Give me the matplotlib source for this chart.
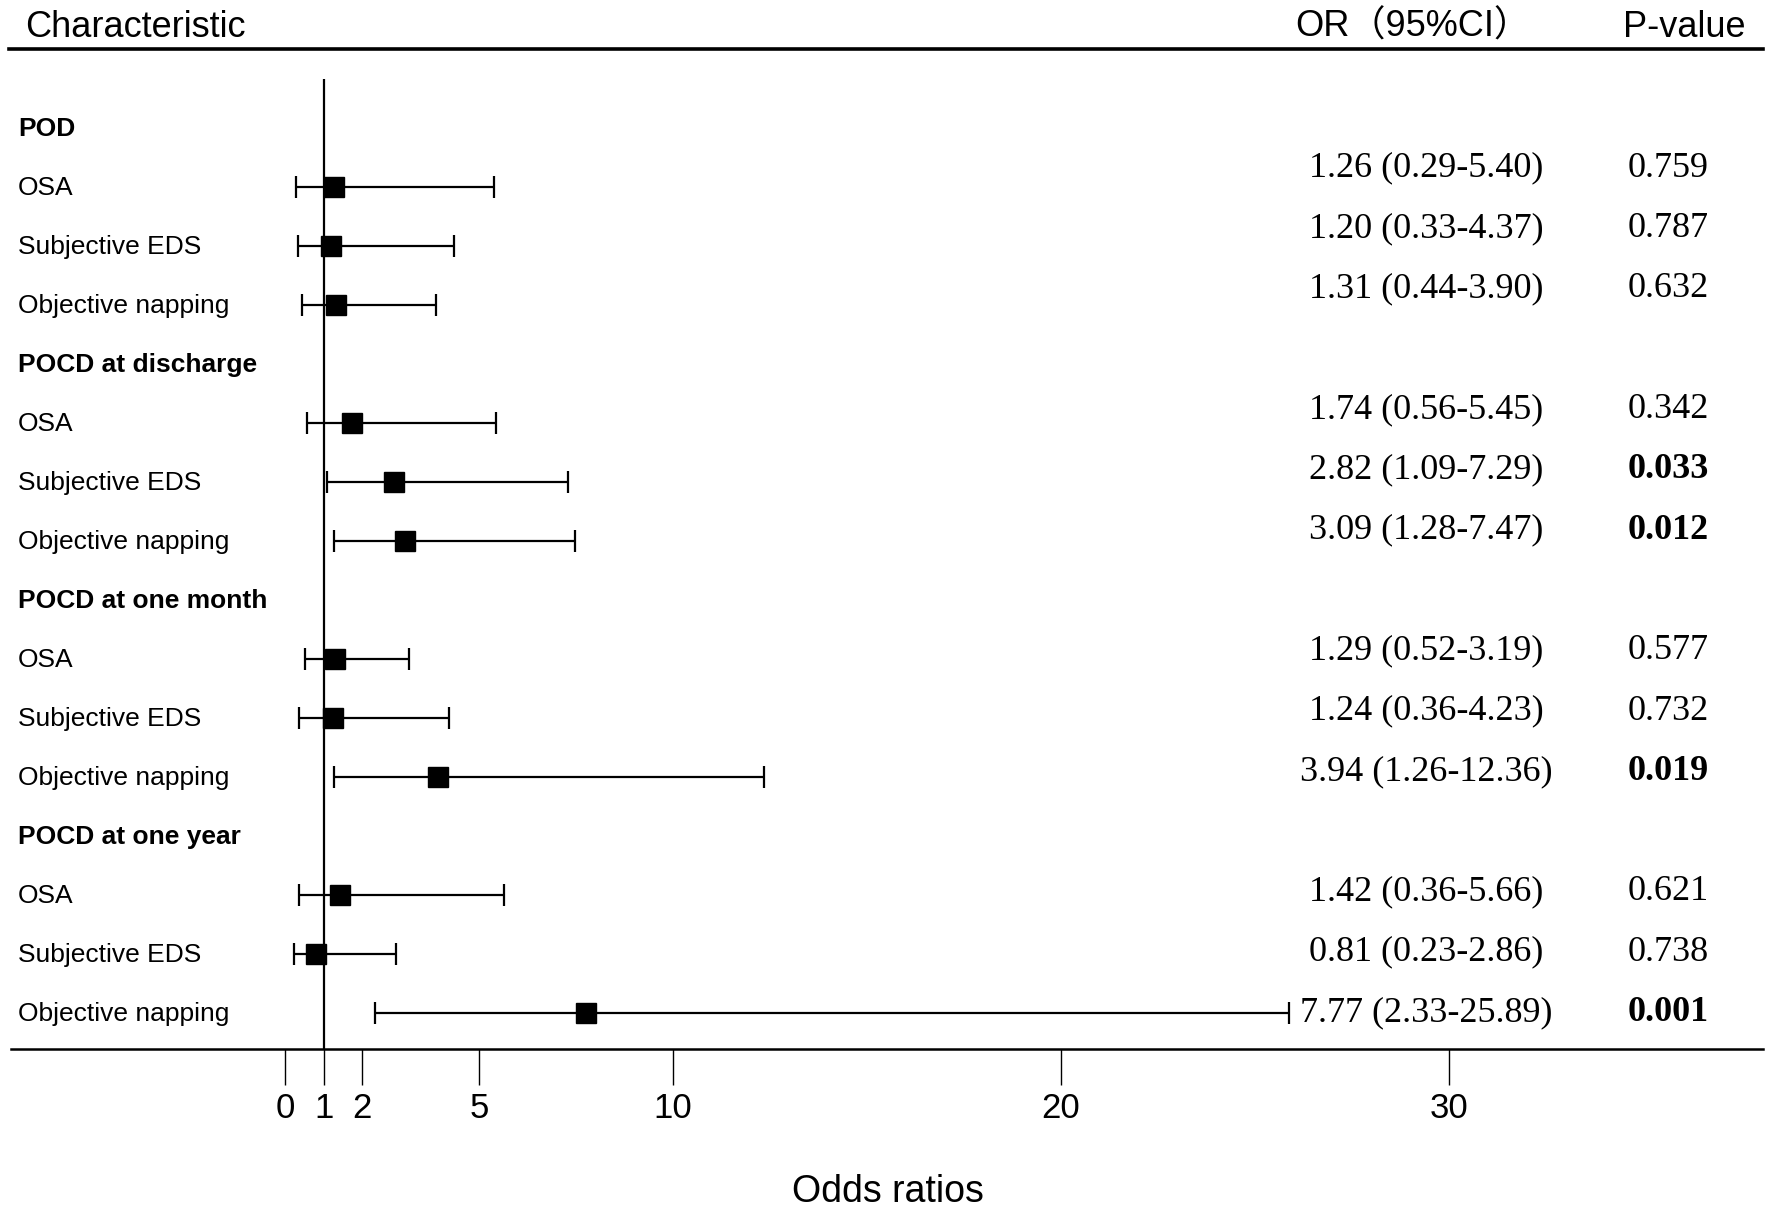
import numpy as np
import matplotlib.pyplot as plt
import matplotlib.transforms as mtransforms

# DADOS DA TABELA
rotulos = ['POD', 'OSA', 'Subjective EDS', 'Objective napping',
           'POCD at discharge', 'OSA', 'Subjective EDS', 'Objective napping',
           'POCD at one month', 'OSA', 'Subjective EDS', 'Objective napping',
           'POCD at one year', 'OSA', 'Subjective EDS', 'Objective napping']
cabecalho = [True, False, False, False] * 4

OR = [np.nan, 1.26, 1.20, 1.31, np.nan, 1.74, 2.82, 3.09,
      np.nan, 1.29, 1.24, 3.94, np.nan, 1.42, 0.81, 7.77]
IC_inf = [np.nan, 0.29, 0.33, 0.44, np.nan, 0.56, 1.09, 1.28,
          np.nan, 0.52, 0.36, 1.26, np.nan, 0.36, 0.23, 2.33]
IC_sup = [np.nan, 5.40, 4.37, 3.90, np.nan, 5.45, 7.29, 7.47,
          np.nan, 3.19, 4.23, 12.36, np.nan, 5.66, 2.86, 25.89]
p_valor = [None, '0.759', '0.787', '0.632', None, '0.342', '0.033', '0.012',
           None, '0.577', '0.732', '0.019', None, '0.621', '0.738', '0.001']

ticks_x = [0, 1, 2, 5, 10, 20, 30]

SANS = ['Liberation Sans', 'Noto Sans CJK SC', 'DejaVu Sans']
SERIF = ['Liberation Serif', 'DejaVu Serif']

W, H = 1568, 1073.4  # coordenadas de referencia


def fx(px):
    return px / W


def fy(py):
    return 1 - py / H


fig = plt.figure(figsize=(17.72, 12.13), dpi=100)
ax = fig.add_axes([fx(10), fy(928), fx(1560) - fx(10), fy(70) - fy(928)])

n = len(rotulos)
y = np.arange(n)
OR = np.array(OR)
lo = OR - np.array(IC_inf)
hi = np.array(IC_sup) - OR

ax.errorbar(OR, y, xerr=[lo, hi], fmt='s', color='black', ms=15,
            elinewidth=1.6, capsize=8, capthick=1.6)
ax.axvline(1, color='black', lw=1.6)

ax.set_xlim(-7.05, 38.1)
ax.set_ylim(n - 1 + 0.61, -0.82)

for s in ['top', 'right', 'left']:
    ax.spines[s].set_visible(False)
ax.spines['bottom'].set_linewidth(1.8)
ax.set_yticks([])
ax.set_xticks(ticks_x)
ax.set_xticklabels([str(t) for t in ticks_x], family=SANS, fontsize=25)
ax.tick_params(axis='x', direction='out', length=26, width=1.0, pad=5)

# TEXTOS DAS LINHAS
trans = mtransforms.blended_transform_factory(fig.transFigure, ax.transData)
for i in range(n):
    ax.text(fx(16), i + 0.03, rotulos[i], transform=trans, ha='left', va='center',
            family=SANS, fontsize=19,
            fontweight='bold' if cabecalho[i] else 'normal')
    if p_valor[i] is not None:
        yt = 0.69 + 1.022 * (i - 1)
        txt = f'{OR[i]:.2f} ({IC_inf[i]:.2f}-{IC_sup[i]:.2f})'
        ax.text(fx(1262), yt, txt, transform=trans, ha='center', va='center',
                family=SERIF, fontsize=26, clip_on=False)
        negrito = float(p_valor[i]) < 0.05
        ax.text(fx(1440), yt, p_valor[i], transform=trans, ha='left', va='center',
                family=SERIF, fontsize=26, clip_on=False,
                fontweight='bold' if negrito else 'normal')

# CABECALHO
fig.text(fx(22), fy(24), 'Characteristic', ha='left', va='center', family=SANS, fontsize=26)
fig.text(fx(1250), fy(24), 'OR（95%CI）', ha='center', va='center', family=SANS, fontsize=26)
fig.text(fx(1490), fy(24), 'P-value', ha='center', va='center', family=SANS, fontsize=26)
fig.add_artist(plt.Line2D([fx(8), fx(1560)], [fy(43), fy(43)], transform=fig.transFigure,
                          color='black', lw=2.6))

fig.text(fx(786), fy(1055), 'Odds ratios', ha='center', va='center', family=SANS, fontsize=27)

fig.savefig('out.png', dpi=100)
